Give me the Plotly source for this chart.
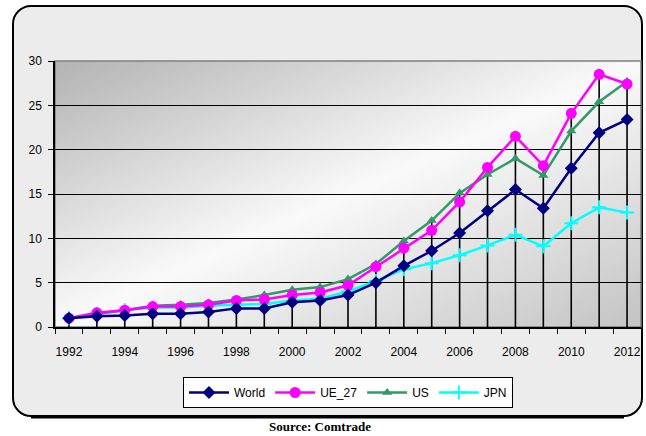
import zlib, struct, base64
import plotly.graph_objects as go

years = list(range(1992, 2013))
world = [1.0, 1.2, 1.3, 1.5, 1.5, 1.7, 2.1, 2.1, 2.8, 3.0, 3.6, 5.0, 6.9, 8.6, 10.6, 13.1, 15.5, 13.4, 17.9, 21.9, 23.4]
ue27 = [1.0, 1.6, 1.9, 2.3, 2.3, 2.5, 3.0, 3.1, 3.6, 3.9, 4.7, 6.8, 8.9, 10.9, 14.1, 18.0, 21.5, 18.2, 24.1, 28.5, 27.4]
us = [1.0, 1.5, 1.9, 2.4, 2.5, 2.7, 3.1, 3.6, 4.2, 4.5, 5.4, 7.1, 9.7, 12.0, 15.1, 17.2, 19.0, 17.1, 22.1, 25.4, 27.7]
jpn = [1.0, 1.5, 1.9, 2.2, 2.2, 2.4, 2.5, 2.6, 3.0, 3.2, 4.0, 5.2, 6.5, 7.2, 8.1, 9.2, 10.4, 9.1, 11.7, 13.5, 12.9]
year_labels = list(range(1992, 2013, 2))
y_ticks = [0, 5, 10, 15, 20, 25, 30]

W, H = 646, 436
L, R, T, B = 55, 5, 61, 109
PW, PH = W - L - R, H - T - B

def px(x):
    return (x - L) / PW

def py(y):
    return (H - B - y) / PH

# gradient png for plot area
def make_png(w, h, rows):
    raw = b''.join(b'\x00' + bytes(r) for r in rows)
    def chunk(t, d):
        c = struct.pack('>I', len(d)) + t + d
        return c + struct.pack('>I', zlib.crc32(t + d) & 0xffffffff)
    return (b'\x89PNG\r\n\x1a\n' + chunk(b'IHDR', struct.pack('>IIBBBBB', w, h, 8, 2, 0, 0, 0))
            + chunk(b'IDAT', zlib.compress(raw, 9)) + chunk(b'IEND', b''))

gw, gh = 120, 60
rows = []
for j in range(gh):
    row = []
    for i in range(gw):
        t = (i / (gw - 1) + j / (gh - 1)) / 2
        if t < 0.5:
            s = t / 0.5
            c = 180 + (250 - 180) * s
        else:
            s = (t - 0.5) / 0.5
            c = 250 - (250 - 196) * s
        c = int(round(c))
        row += [c, c, c]
    rows.append(row)
grad_uri = 'data:image/png;base64,' + base64.b64encode(make_png(gw, gh, rows)).decode()

fig = go.Figure()

# drop lines from max of series
mx = [max(a, b, c, d) for a, b, c, d in zip(world, ue27, us, jpn)]
dx, dy = [], []
for yr, m in zip(years, mx):
    dx += [yr, yr, None]
    dy += [0, m, None]
fig.add_trace(go.Scatter(x=dx, y=dy, mode='lines', line=dict(color='black', width=1.6),
                         showlegend=False, hoverinfo='skip'))

fig.add_trace(go.Scatter(x=years, y=jpn, name='JPN', mode='lines+markers',
                         line=dict(color='#00FFFF', width=2.5),
                         marker=dict(symbol='cross-thin', size=10, line=dict(color='#00FFFF', width=2))))
fig.add_trace(go.Scatter(x=years, y=us, name='US', mode='lines+markers',
                         line=dict(color='#339966', width=2.5),
                         marker=dict(symbol='triangle-up', size=9, color='#339966')))
fig.add_trace(go.Scatter(x=years, y=ue27, name='UE_27', mode='lines+markers',
                         line=dict(color='#FF00FF', width=2.5),
                         marker=dict(symbol='circle', size=11, color='#FF00FF')))
fig.add_trace(go.Scatter(x=years, y=world, name='World', mode='lines+markers',
                         line=dict(color='#000080', width=2.5),
                         marker=dict(symbol='diamond', size=10, color='#000080')))

# frame path with hole for plot area
x0, x1, y0, y1, r = 13, 642, 6, 416, 18
k = 0.55 * r
outer = (f"M{px(x0 + r)},{py(y0)} L{px(x1 - r)},{py(y0)} "
         f"C{px(x1 - r + k)},{py(y0)} {px(x1)},{py(y0 + r - k)} {px(x1)},{py(y0 + r)} "
         f"L{px(x1)},{py(y1 - r)} "
         f"C{px(x1)},{py(y1 - r + k)} {px(x1 - r + k)},{py(y1)} {px(x1 - r)},{py(y1)} "
         f"L{px(x0 + r)},{py(y1)} "
         f"C{px(x0 + r - k)},{py(y1)} {px(x0)},{py(y1 - r + k)} {px(x0)},{py(y1 - r)} "
         f"L{px(x0)},{py(y0 + r)} "
         f"C{px(x0)},{py(y0 + r - k)} {px(x0 + r - k)},{py(y0)} {px(x0 + r)},{py(y0)} Z")
inner = "M0,0 L1,0 L1,1 L0,1 Z"
shapes = [
    dict(type='path', xref='paper', yref='paper', path=outer + ' ' + inner,
         fillcolor='#ECECEC', line=dict(width=0), layer='below'),
    dict(type='path', xref='paper', yref='paper', path=outer,
         fillcolor='rgba(0,0,0,0)', line=dict(color='black', width=2), layer='below'),
    dict(type='line', xref='paper', yref='paper', x0=px(x0 + r), x1=px(x1 - r), y0=py(y1 + 1), y1=py(y1 + 1),
         line=dict(color='black', width=3), layer='below'),
    dict(type='rect', xref='paper', yref='paper', x0=0, x1=1, y0=0, y1=1,
         line=dict(color='#7F7F7F', width=1.5), fillcolor='rgba(0,0,0,0)', layer='below'),
]

fig.update_layout(
    width=W, height=H,
    margin=dict(l=L, r=R, t=T, b=B),
    paper_bgcolor='white', plot_bgcolor='rgba(0,0,0,0)',
    font=dict(family='Arial, Liberation Sans, sans-serif', size=11, color='black'),
    images=[dict(source=grad_uri, xref='paper', yref='paper', x=0, y=1, sizex=1, sizey=1,
                 sizing='stretch', layer='below', xanchor='left', yanchor='top')],
    shapes=shapes,
    xaxis=dict(range=[1991.5, 2012.5], tickvals=year_labels, ticktext=[str(v) for v in year_labels],
               ticks='outside', ticklen=5, tickcolor='rgba(0,0,0,0)',
               showgrid=False, zeroline=False, showline=True, linecolor='black', linewidth=1.5,
               minor=dict(tickvals=[v - 0.5 for v in years] + [2012.5], ticks='outside', ticklen=5,
                          tickwidth=1.2, tickcolor='black', showgrid=False),
               ticklabelstandoff=8, tickfont=dict(size=12)),
    yaxis=dict(range=[0, 30], tickvals=y_ticks, ticks='outside', ticklen=5, tickcolor='black',
               showgrid=True, gridcolor='black', gridwidth=1.3, zeroline=False,
               showline=True, linecolor='black', linewidth=1.5, ticklabelstandoff=4,
               tickfont=dict(size=12)),
    legend=dict(orientation='h', x=px(348), xanchor='center', y=py(377), yanchor='top',
                bgcolor='white', bordercolor='black', borderwidth=1,
                traceorder='reversed', font=dict(size=12), itemwidth=40),
    annotations=[dict(text='<b>Source: Comtrade</b>', xref='paper', yref='paper', x=px(320), y=py(436),
                      yanchor='bottom', showarrow=False,
                      font=dict(family='Liberation Serif, Times New Roman, serif', size=13))],
)

fig.write_html('out.html', config={'displayModeBar': False},
               post_script="document.body.style.margin='0';")
